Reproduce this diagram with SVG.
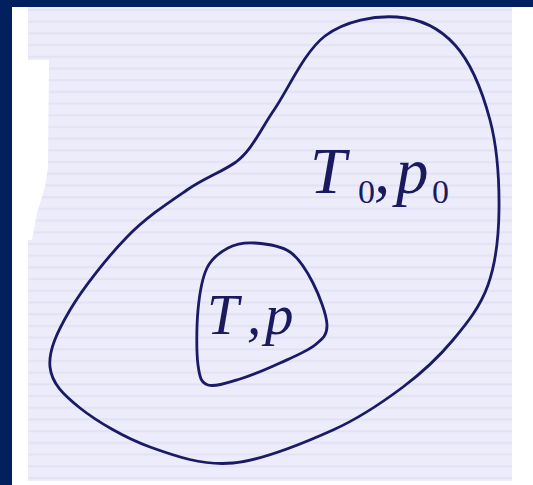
<svg xmlns="http://www.w3.org/2000/svg" width="533" height="485" viewBox="0 0 533 485">
<style>
.blob{fill:none;stroke:#1b1a66;stroke-width:2.8;stroke-linejoin:round}
.lbl{font-family:"Liberation Serif","Times New Roman",serif;font-style:italic;fill:#1b1a5e}
.sub{font-family:"Liberation Serif","Times New Roman",serif;font-style:normal;fill:#1b1a5e}
</style>
<defs>
<pattern id="rule" x="0" y="0" width="10" height="11.7" patternUnits="userSpaceOnUse">
<rect width="10" height="11.7" fill="#ececfb"/>
<rect y="9" width="10" height="2" fill="#e2e2f4"/>
</pattern>
</defs>
<g id="background">
<rect x="0" y="0" width="533" height="485" fill="#ffffff"/>
<rect x="28" y="7" width="484" height="474" fill="url(#rule)"/>
<polygon points="12,60 49,60 48,167 45,187 37,213 32,240 12,240" fill="#ffffff"/>
<rect x="0" y="0" width="12" height="485" fill="#03205e"/>
<rect x="0" y="0" width="533" height="7" fill="#03205e"/>
</g>
<g id="outer-region">
<path class="blob" d="M397,17 C418.7,18.5 439.5,27.8 455,45 C470.5,62.2 482.7,92.5 490,120 C497.3,147.5 499.3,182.5 499,210 C498.7,237.5 495.7,263.3 488,285 C480.3,306.7 467.2,323 453,340 C438.8,357 423,372 403,387 C383,402 361.3,417.3 333,430 C304.7,442.7 263.5,460.2 233,463 C202.5,465.8 175.5,456.2 150,447 C124.5,437.8 96.7,421.3 80,408 C63.3,394.7 51.7,383.3 50,367 C48.3,350.7 57.2,331.7 70,310 C82.8,288.3 107.5,257 127,237 C146.5,217 168.2,202.8 187,190 C205.8,177.2 222,172 236,162 C252,150 259.8,130.7 274,110 C288.2,89.3 304.5,51.5 325,36 C345.5,20.5 375.3,15.5 397,17 Z"/>
<text class="lbl" x="310" y="193" font-size="65">T</text>
<text class="sub" x="358" y="203" font-size="34">0</text>
<text class="lbl" x="374" y="193" font-size="65">,</text>
<text class="lbl" x="396" y="193" font-size="65">p</text>
<text class="sub" x="432" y="203" font-size="34">0</text>
</g>
<g id="inner-region">
<path class="blob" d="M255,243 C265.3,243.7 280.3,245.3 290,252 C299.7,258.7 306.8,270.8 313,283 C319.2,295.2 326.7,314.7 327,325 C327.3,335.3 322.8,338.7 315,345 C307.2,351.3 292.5,357.3 280,363 C267.5,368.7 252,375.3 240,379 C228,382.7 215,387.3 208,385 C201,382.7 199.7,377.5 198,365 C196.3,352.5 196.5,326.2 198,310 C199.5,293.8 202,278.3 207,268 C212,257.7 220,252.2 228,248 C236,243.8 244.7,242.3 255,243 Z"/>
<text class="lbl" x="207" y="334" font-size="57">T</text>
<text class="lbl" x="247" y="334" font-size="57">,</text>
<text class="lbl" x="265" y="334" font-size="57">p</text>
</g>
</svg>
